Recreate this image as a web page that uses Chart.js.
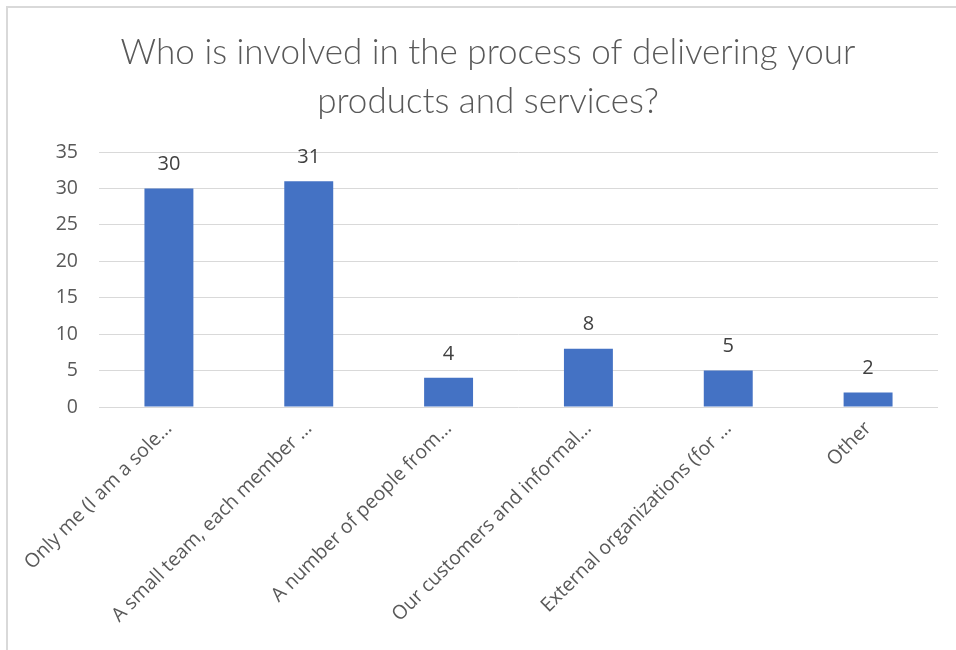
<!DOCTYPE html>
<html>
<head>
<meta charset="utf-8">
<script src="https://cdn.jsdelivr.net/npm/chart.js@4.4.1/dist/chart.umd.min.js"></script>
<style>
    html, body { margin: 0; padding: 0; background: #fff; }
    #wrap {
        position: relative;
        width: 956px;
        height: 650px;
    }
    #frame {
        position: absolute;
        left: 6px;
        top: 6px;
        right: 0;
        bottom: 0;
        border-top: 2px solid #d9d9d9;
        border-left: 2px solid #d9d9d9;
    }
    #chart { position: absolute; left: 0; top: 0; }
</style>
</head>
<body>
<div id="wrap">
    <div id="frame"></div>
    <canvas id="chart" width="956" height="650"></canvas>
</div>
<script>
const categories = [
    'Only me (I am a sole\u2026',
    'A small team, each member \u2026',
    'A number of people from\u2026',
    'Our customers and informal\u2026',
    'External organizations (for \u2026',
    'Other'
]
const responses = [30, 31, 4, 8, 5, 2]
const yTicks = [0, 5, 10, 15, 20, 25, 30, 35]

const textGray = '#595959'
const gridGray = '#d9d9d9'
const bodyFont = '"Open Sans", sans-serif'

// writes each bar's value just above it
const valueLabels = {
    id: 'valueLabels',
    afterDatasetsDraw(chart) {
        const ctx = chart.ctx
        const meta = chart.getDatasetMeta(0)
        ctx.save()
        ctx.font = '20px ' + bodyFont
        ctx.fillStyle = '#404040'
        ctx.textAlign = 'center'
        ctx.textBaseline = 'middle'
        meta.data.forEach(function (bar, i) {
            ctx.fillText(responses[i], bar.x, bar.y - 24)
        })
        ctx.restore()
    }
}

new Chart('chart', {
    type: 'bar',
    data: {
        labels: categories,
        datasets: [{
            data: responses,
            backgroundColor: '#4472c4',
            barPercentage: 1,
            categoryPercentage: 0.35
        }]
    },
    options: {
        responsive: false,
        animation: false,
        layout: { padding: { left: 38, right: 18, top: 0, bottom: 0 } },
        plugins: {
            legend: { display: false },
            tooltip: { enabled: false },
            title: {
                display: true,
                text: ['Who is involved in the process of delivering your', 'products and services?'],
                color: textGray,
                font: { family: 'Lato', size: 35, weight: 300, lineHeight: 1.4 },
                padding: { top: 28, bottom: 26 }
            }
        },
        scales: {
            y: {
                min: 0,
                max: 35,
                afterBuildTicks: function (scale) {
                    scale.ticks = yTicks.map(function (v) { return { value: v } })
                },
                afterFit: function (scale) { scale.width = 61 },
                border: { display: false },
                grid: { color: gridGray, lineWidth: 1, drawTicks: false },
                ticks: {
                    color: textGray,
                    padding: 21,
                    font: { family: bodyFont, size: 19.5 }
                }
            },
            x: {
                afterFit: function (scale) { scale.height = 243 },
                border: { display: false },
                grid: { display: false },
                ticks: {
                    color: textGray,
                    minRotation: 45,
                    maxRotation: 45,
                    padding: 2,
                    autoSkip: false,
                    font: { family: bodyFont, size: 19.5 }
                }
            }
        }
    },
    plugins: [valueLabels]
})
</script>
</body>
</html>
